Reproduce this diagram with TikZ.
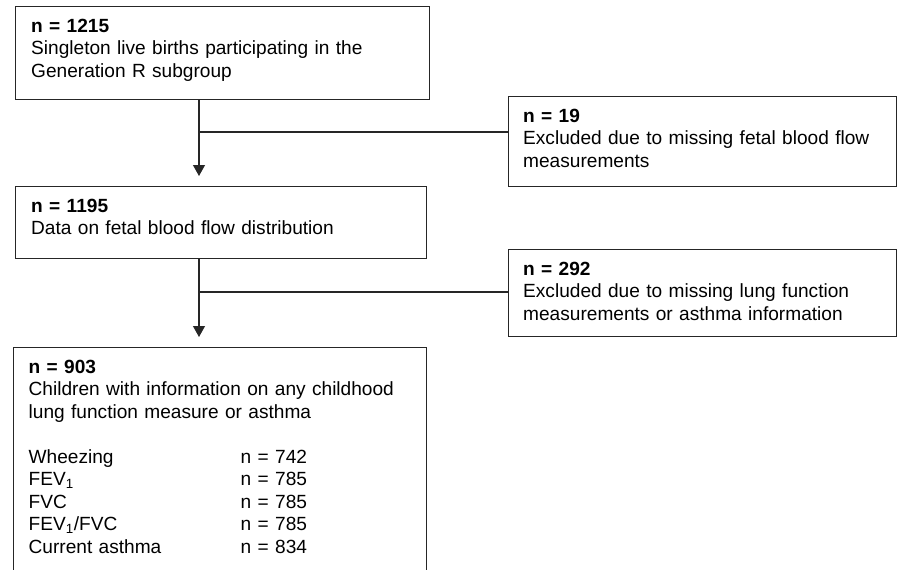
\documentclass[tikz,border=0pt]{standalone}
\usepackage{fontspec}
\setmainfont{Liberation Sans}
\usetikzlibrary{arrows.meta,positioning}
\tikzset{
  box/.style={draw=black!85, line width=1.1pt, inner sep=0pt, anchor=north west},
  txt/.style={inner sep=0pt, anchor=base west, text width=370pt, align=left,
    font=\fontsize{19.1}{22.7}\selectfont},
  link/.style={draw=black!85, line width=1.1pt},
  flow/.style={link, -{Triangle[width=12pt,length=11pt]}, shorten >=10pt}
}

\begin{document}
\begin{tikzpicture}[x=1pt,y=-1pt]
  \useasboundingbox (0,0) rectangle (898,570);
  % boxes
  \node[box, minimum width=414pt, minimum height=93pt] (total) at (15,6) {};
  \node[box, minimum width=388pt, minimum height=90pt] (excl1) at (508,96) {};
  \node[box, minimum width=411pt, minimum height=72pt] (cohort) at (15,186) {};
  \node[box, minimum width=388pt, minimum height=87pt] (excl2) at (508,249) {};
  \node[box, minimum width=413.5pt, minimum height=260pt] (final) at (12.5,347) {};
  % texts
  \node[txt] (totaltxt) at ([xshift=16pt,yshift=-26pt]total.north west)
    {\textbf{n = 1215}\\Singleton live births participating in the\\Generation R subgroup};
  \node[txt] (excl1txt) at ([xshift=15pt,yshift=-26pt]excl1.north west)
    {\textbf{n = 19}\\Excluded due to missing fetal blood flow\\measurements};
  \node[txt] (cohorttxt) at ([xshift=16pt,yshift=-26pt]cohort.north west)
    {\textbf{n = 1195}\\Data on fetal blood flow distribution};
  \node[txt] (excl2txt) at ([xshift=15pt,yshift=-26pt]excl2.north west)
    {\textbf{n = 292}\\Excluded due to missing lung function\\measurements or asthma information};
  \node[txt] (finaltxt) at ([xshift=16pt,yshift=-26pt]final.north west)
    {\textbf{n = 903}\\Children with information on any childhood\\lung function measure or asthma};
  \foreach \lab/\n [count=\i] in {Wheezing/742, FEV\textsubscript{1}/785, FVC/785,
      {FEV\textsubscript{1}/FVC}/785, Current asthma/834} {
    \node[txt, text width=200pt] (lab\i) at ([xshift=16pt,yshift={-116pt-22.5pt*(\i-1)}]final.north west) {\lab};
    \node[txt, text width=100pt] (num\i) at ([xshift=212pt]lab\i.base west) {n = \n};
  }
  % connectors
  \coordinate (j1) at (199,132);
  \coordinate (j2) at (199,292);
  \draw[flow] (j1 |- total.south) -- (j1 |- cohort.north);
  \draw[link] (j1) -- (j1 -| excl1.west);
  \draw[flow] (j2 |- cohort.south) -- (j2 |- final.north);
  \draw[link] (j2) -- (j2 -| excl2.west);
\end{tikzpicture}
\end{document}
